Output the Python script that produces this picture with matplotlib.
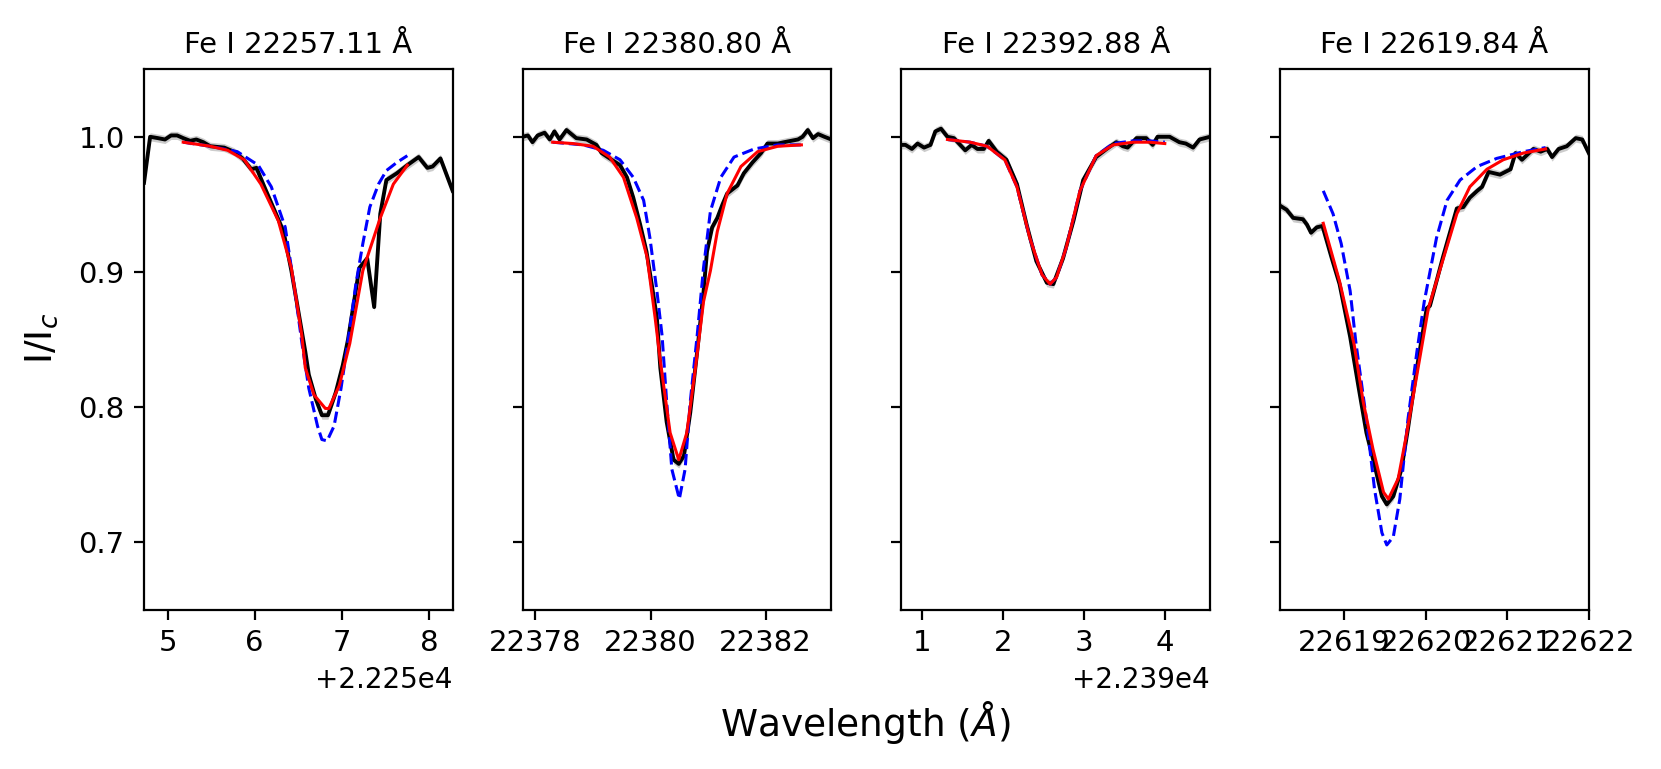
import matplotlib.pyplot as plt
from matplotlib.ticker import MultipleLocator

# line labels for each panel
titles = ['Fe I 22257.11 Å', 'Fe I 22380.80 Å', 'Fe I 22392.88 Å', 'Fe I 22619.84 Å']

# observed spectra (black)
obs1_x = [22254.73, 22254.80, 22254.89, 22254.97, 22255.04, 22255.11, 22255.18, 22255.26, 22255.33,
          22255.41, 22255.49, 22255.65, 22255.76, 22255.86, 22255.96, 22256.02, 22256.11, 22256.23,
          22256.33, 22256.42, 22256.50, 22256.58, 22256.62, 22256.70, 22256.77, 22256.84, 22256.93,
          22257.01, 22257.07, 22257.20, 22257.29, 22257.37, 22257.44, 22257.51, 22257.63, 22257.75,
          22257.88, 22257.98, 22258.04, 22258.13, 22258.27]
obs1_y = [0.966, 1.000, 0.999, 0.998, 1.001, 1.001, 0.999, 0.997, 0.998,
          0.996, 0.993, 0.992, 0.989, 0.984, 0.976, 0.977, 0.963, 0.945,
          0.930, 0.901, 0.871, 0.841, 0.824, 0.806, 0.794, 0.794, 0.811,
          0.831, 0.850, 0.903, 0.910, 0.874, 0.943, 0.968, 0.973, 0.979,
          0.985, 0.977, 0.978, 0.984, 0.960]

obs2_x = [22377.78, 22377.87, 22377.95, 22378.04, 22378.16, 22378.25, 22378.33, 22378.42, 22378.54,
          22378.71, 22378.89, 22379.06, 22379.15, 22379.29, 22379.47, 22379.59, 22379.70, 22379.82,
          22379.93, 22380.02, 22380.11, 22380.17, 22380.28, 22380.40, 22380.49, 22380.58, 22380.69,
          22380.81, 22380.92, 22380.98, 22381.07, 22381.16, 22381.25, 22381.33, 22381.51, 22381.62,
          22381.77, 22381.92, 22382.03, 22382.21, 22382.32, 22382.44, 22382.56, 22382.64, 22382.73,
          22382.82, 22382.91, 22383.02, 22383.14]
obs2_y = [1.000, 1.001, 0.996, 1.001, 1.003, 0.998, 1.004, 0.998, 1.005,
          0.999, 0.998, 0.994, 0.988, 0.984, 0.979, 0.970, 0.955, 0.935,
          0.915, 0.891, 0.866, 0.829, 0.789, 0.761, 0.758, 0.764, 0.796,
          0.841, 0.885, 0.915, 0.933, 0.940, 0.950, 0.958, 0.964, 0.973,
          0.981, 0.988, 0.995, 0.995, 0.996, 0.997, 0.998, 1.000, 1.005,
          0.999, 1.002, 1.000, 0.998]

obs3_x = [22390.74, 22390.79, 22390.87, 22390.94, 22391.02, 22391.10, 22391.16, 22391.23, 22391.31,
          22391.39, 22391.53, 22391.61, 22391.68, 22391.76, 22391.82, 22391.92, 22392.04, 22392.17,
          22392.29, 22392.41, 22392.54, 22392.62, 22392.74, 22392.87, 22392.99, 22393.15, 22393.28,
          22393.40, 22393.48, 22393.54, 22393.65, 22393.77, 22393.85, 22393.91, 22393.98, 22394.06,
          22394.18, 22394.26, 22394.35, 22394.43, 22394.56]
obs3_y = [0.994, 0.994, 0.991, 0.995, 0.992, 0.994, 1.004, 1.006, 1.000,
          0.999, 0.990, 0.994, 0.991, 0.991, 0.997, 0.989, 0.983, 0.965,
          0.935, 0.908, 0.892, 0.891, 0.910, 0.938, 0.968, 0.985, 0.991,
          0.996, 0.993, 0.992, 0.999, 0.999, 0.994, 1.000, 1.000, 1.000,
          0.996, 0.995, 0.992, 0.998, 1.000]

obs4_x = [22618.21, 22618.29, 22618.37, 22618.49, 22618.54, 22618.59, 22618.66, 22618.73, 22618.84,
          22618.94, 22619.07, 22619.17, 22619.27, 22619.37, 22619.46, 22619.52, 22619.60, 22619.70,
          22619.78, 22619.89, 22620.01, 22620.05, 22620.21, 22620.38, 22620.46, 22620.54, 22620.63,
          22620.69, 22620.77, 22620.91, 22621.04, 22621.10, 22621.18, 22621.32, 22621.41, 22621.49,
          22621.55, 22621.63, 22621.73, 22621.84, 22621.92, 22622.00]
obs4_y = [0.949, 0.946, 0.940, 0.939, 0.935, 0.929, 0.933, 0.934, 0.911,
          0.891, 0.852, 0.816, 0.781, 0.757, 0.734, 0.728, 0.734, 0.754,
          0.784, 0.829, 0.873, 0.875, 0.911, 0.947, 0.948, 0.955, 0.960,
          0.963, 0.974, 0.972, 0.976, 0.988, 0.983, 0.991, 0.989, 0.991,
          0.985, 0.991, 0.993, 0.999, 0.998, 0.988]

# fitted profiles (red)
fit1_x = [22255.18, 22255.49, 22255.69, 22255.88, 22256.07, 22256.27, 22256.42, 22256.54, 22256.58,
          22256.68, 22256.81, 22256.85, 22256.97, 22257.09, 22257.24, 22257.44, 22257.59, 22257.75]
fit1_y = [0.996, 0.993, 0.990, 0.983, 0.965, 0.938, 0.903, 0.853, 0.829,
          0.809, 0.799, 0.799, 0.816, 0.847, 0.901, 0.940, 0.965, 0.979]

fit2_x = [22378.30, 22378.65, 22379.00, 22379.29, 22379.53, 22379.76, 22379.94, 22380.08, 22380.17,
          22380.34, 22380.49, 22380.63, 22380.78, 22380.92, 22381.04, 22381.16, 22381.33, 22381.57,
          22381.86, 22382.21, 22382.62]
fit2_y = [0.996, 0.995, 0.993, 0.985, 0.970, 0.940, 0.911, 0.866, 0.834,
          0.781, 0.761, 0.781, 0.829, 0.878, 0.901, 0.930, 0.958, 0.978,
          0.989, 0.993, 0.994]

fit3_x = [22391.31, 22391.59, 22391.80, 22392.02, 22392.17, 22392.33, 22392.48, 22392.58, 22392.66,
          22392.78, 22392.95, 22393.15, 22393.36, 22393.61, 22393.81, 22394.00]
fit3_y = [0.998, 0.996, 0.993, 0.983, 0.963, 0.925, 0.898, 0.891, 0.896,
          0.918, 0.960, 0.986, 0.994, 0.996, 0.996, 0.995]

fit4_x = [22618.74, 22618.94, 22619.12, 22619.23, 22619.35, 22619.48, 22619.54, 22619.66, 22619.76,
          22619.89, 22620.03, 22620.17, 22620.38, 22620.54, 22620.75, 22620.95, 22621.20, 22621.47]
fit4_y = [0.936, 0.893, 0.846, 0.804, 0.769, 0.737, 0.732, 0.747, 0.779,
          0.824, 0.873, 0.901, 0.943, 0.963, 0.976, 0.983, 0.988, 0.991]

# synthetic model (blue dashed)
mod1_x = [22255.18, 22255.49, 22255.80, 22256.04, 22256.19, 22256.35, 22256.46, 22256.54, 22256.62,
          22256.72, 22256.77, 22256.83, 22256.91, 22256.99, 22257.09, 22257.16, 22257.24, 22257.32,
          22257.42, 22257.51, 22257.63, 22257.75]
mod1_y = [0.996, 0.993, 0.989, 0.979, 0.963, 0.933, 0.886, 0.848, 0.814,
          0.786, 0.776, 0.775, 0.786, 0.814, 0.858, 0.891, 0.921, 0.948,
          0.965, 0.975, 0.981, 0.986]

mod2_x = [22378.30, 22378.83, 22379.18, 22379.47, 22379.70, 22379.88, 22379.99, 22380.11, 22380.20,
          22380.28, 22380.37, 22380.50, 22380.60, 22380.69, 22380.81, 22380.92, 22381.04, 22381.22,
          22381.45, 22381.80, 22382.21, 22382.62]
mod2_y = [0.996, 0.994, 0.990, 0.983, 0.970, 0.953, 0.925, 0.886, 0.853,
          0.804, 0.754, 0.732, 0.754, 0.804, 0.853, 0.903, 0.945, 0.970,
          0.985, 0.991, 0.994, 0.994]

mod3_x = fit3_x
mod3_y = [0.998, 0.996, 0.993, 0.983, 0.963, 0.925, 0.898, 0.891, 0.896,
          0.918, 0.960, 0.986, 0.995, 0.997, 0.997, 0.996]

mod4_x = [22618.74, 22618.86, 22618.96, 22619.07, 22619.14, 22619.27, 22619.37, 22619.46, 22619.52,
          22619.60, 22619.68, 22619.78, 22619.89, 22619.98, 22620.13, 22620.26, 22620.42, 22620.63,
          22620.87, 22621.20, 22621.47]
mod4_y = [0.960, 0.943, 0.921, 0.886, 0.848, 0.791, 0.739, 0.707, 0.698,
          0.704, 0.732, 0.791, 0.841, 0.878, 0.925, 0.953, 0.968, 0.978,
          0.984, 0.989, 0.992]

obs_err = 0.003

obs = [(obs1_x, obs1_y), (obs2_x, obs2_y), (obs3_x, obs3_y), (obs4_x, obs4_y)]
fits = [(fit1_x, fit1_y), (fit2_x, fit2_y), (fit3_x, fit3_y), (fit4_x, fit4_y)]
models = [(mod1_x, mod1_y), (mod2_x, mod2_y), (mod3_x, mod3_y), (mod4_x, mod4_y)]
tick_step = [1, 2, 1, 1]

fig, axes = plt.subplots(1, 4, sharey=True, figsize=(8.305, 3.845), dpi=200)
fig.subplots_adjust(left=0.0867, right=0.9565, bottom=0.207, top=0.910, wspace=0.227)

for i, ax in enumerate(axes):
    ox, oy = obs[i]
    lo = [v - obs_err for v in oy]
    hi = [v + obs_err for v in oy]
    ax.fill_between(ox, lo, hi, color='0.8', lw=0)
    ax.plot(ox, oy, color='k', lw=1.4)
    ax.plot(models[i][0], models[i][1], color='b', ls='--', lw=1.1)
    ax.plot(fits[i][0], fits[i][1], color='r', lw=1.1)
    ax.set_xlim(ox[0], ox[-1])
    ax.xaxis.set_major_locator(MultipleLocator(tick_step[i]))
    ax.set_title(titles[i], fontsize=10.5)
    ax.tick_params(labelsize=10.5)

axes[-1].set_xlim(22618.21, 22622.0)
axes[0].set_ylim(0.65, 1.05)
axes[0].set_yticks([0.7, 0.8, 0.9, 1.0])

fig.text(0.521, 0.06, r'Wavelength ($\AA$)', ha='center', va='center', fontsize=13.5)
fig.text(0.025, 0.56, r'I/I$_c$', ha='center', va='center', rotation=90, fontsize=13.5)

plt.savefig('out.png', dpi=200)
